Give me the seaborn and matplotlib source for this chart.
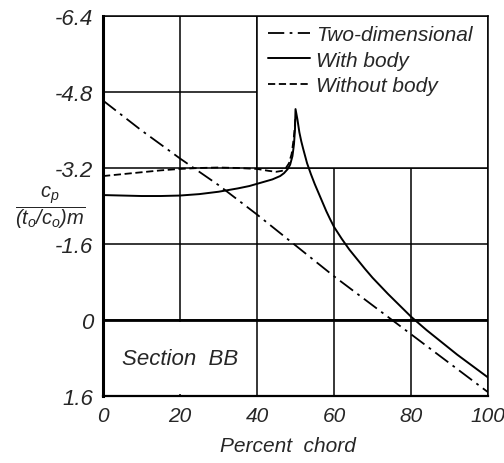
import pandas as pd
import seaborn as sns
import matplotlib.pyplot as plt
from matplotlib.patches import Rectangle

# percent chord / pressure coefficient readings
x_2d = [0, 10, 20, 30, 40, 50, 60, 70, 80, 90, 100]
cp_2d = [-4.62, -3.99, -3.40, -2.84, -2.22, -1.57, -0.92, -0.31, 0.30, 0.91, 1.52]

x_with = [0, 5, 10, 15, 20, 25, 30, 35, 38, 41, 44, 46, 47, 48, 48.6, 49.2, 49.6, 49.85, 50,
          50.5, 51, 51.5, 52, 53, 54, 55, 56, 57, 58, 59, 60, 62, 64, 66, 68, 70,
          72, 74, 76, 78, 80, 82, 84, 86, 88, 90, 92, 94, 96, 98, 100]
cp_with = [-2.63, -2.62, -2.61, -2.61, -2.62, -2.65, -2.70, -2.77, -2.82, -2.89, -2.96,
           -3.03, -3.09, -3.18, -3.27, -3.45, -3.70, -4.00, -4.44,
           -4.22, -3.95, -3.76, -3.60, -3.30, -3.07, -2.86, -2.67, -2.48, -2.29, -2.12,
           -1.96, -1.71, -1.48, -1.28, -1.08, -0.89, -0.72, -0.55, -0.39, -0.23, -0.07,
           0.07, 0.21, 0.34, 0.47, 0.60, 0.73, 0.85, 0.97, 1.09, 1.21]

x_without = [0, 5, 10, 15, 20, 25, 30, 35, 40, 43, 45, 46.5, 47.5, 48.3, 49, 49.5, 49.8, 50]
cp_without = [-3.03, -3.07, -3.11, -3.15, -3.18, -3.20, -3.21, -3.20, -3.18, -3.14,
              -3.12, -3.14, -3.20, -3.30, -3.50, -3.80, -4.05, -4.30]

xticks = [0, 20, 40, 60, 80, 100]
yticks = [1.6, 0, -1.6, -3.2, -4.8, -6.4]
ytick_labels = ["1.6", "0", "-1.6", "-3.2", "-4.8", "-6.4"]

df_2d = pd.DataFrame({"x": x_2d, "cp": cp_2d})
df_with = pd.DataFrame({"x": x_with, "cp": cp_with})
df_without = pd.DataFrame({"x": x_without, "cp": cp_without})

sns.set_style("white")
plt.rcParams["font.family"] = ["Liberation Sans", "DejaVu Sans"]
plt.rcParams["font.style"] = "italic"
plt.rcParams["mathtext.fontset"] = "custom"
plt.rcParams["mathtext.rm"] = "Liberation Sans:italic"
plt.rcParams["mathtext.it"] = "Liberation Sans:italic"

fig = plt.figure(figsize=(5.04, 4.64), dpi=100)
ax = fig.add_axes([0.2044, 0.1444, 0.7639, 0.819])

sns.lineplot(data=df_2d, x="x", y="cp", ax=ax, color="black", lw=1.3,
             linestyle=(0, (9, 3, 1.5, 3)), label="Two-dimensional", zorder=3)
sns.lineplot(data=df_with, x="x", y="cp", ax=ax, color="black", lw=1.4,
             label="With body", zorder=3)
sns.lineplot(data=df_without, x="x", y="cp", ax=ax, color="black", lw=1.3,
             linestyle=(0, (4, 2)), label="Without body", zorder=3)

ax.set_xlim(0, 100)
ax.set_ylim(1.6, -6.4)
ax.set_xticks(xticks)
ax.set_xticklabels([str(t) for t in xticks], fontsize=15)
ax.set_yticks(yticks)
ax.set_yticklabels(ytick_labels, fontsize=16)
ax.tick_params(length=0, pad=7)

ax.grid(True, color="black", lw=1.1)
ax.set_axisbelow(True)
ax.axhline(0, color="black", lw=2.0, zorder=1)

# legend box and label box cover the grid
ax.add_patch(Rectangle((40, -6.4), 60, 3.2, facecolor="white", edgecolor="black",
                       lw=1.1, zorder=0.8))
ax.add_patch(Rectangle((0.5, 0.05), 39, 1.5, facecolor="white", edgecolor="none",
                       zorder=0.8))

for side, w in [("left", 2.2), ("bottom", 1.6), ("top", 1.1), ("right", 1.1)]:
    ax.spines[side].set_color("black")
    ax.spines[side].set_linewidth(w)

ax.legend(loc="upper left", bbox_to_anchor=(0.4286, 0.975), frameon=False,
          fontsize=15, handlelength=2.0, handletextpad=0.3, labelspacing=0.3,
          borderaxespad=0, borderpad=0)

ax.text(5, 0.82, "Section  BB", fontsize=16, va="center", ha="left")

ax.set_xlabel("Percent  chord", fontsize=15)
ax.xaxis.set_label_coords(0.48, -0.105)
ax.set_ylabel("")
fig.text(0.099, 0.553, r"$\dfrac{c_p}{(t_o/c_o)m}$", fontsize=14.5, ha="center", va="center")

fig.savefig("out.png", dpi=100)
